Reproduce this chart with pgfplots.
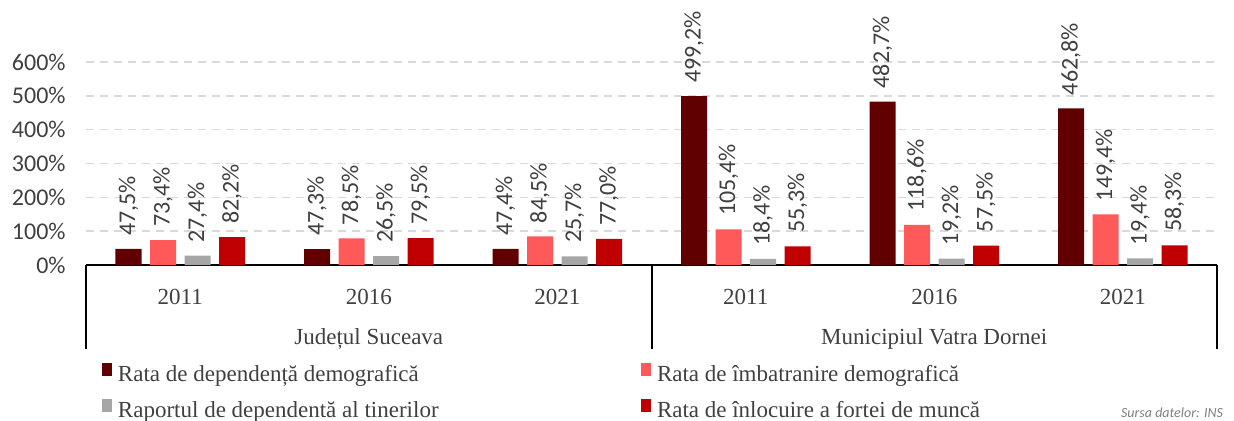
\documentclass[border=0pt]{standalone}
\usepackage{fontspec}
\setmainfont{Liberation Serif}
\newfontfamily\calibri{Carlito}
\usepackage{pgfplots}
\usepackage{pgfplotstable}
\pgfplotsset{compat=1.18}
\usetikzlibrary{calc}
\definecolor{cdark}{RGB}{96,0,0}
\definecolor{cpink}{RGB}{255,89,89}
\definecolor{cgray}{RGB}{166,166,166}
\definecolor{cred}{RGB}{192,0,0}
\definecolor{ctext}{RGB}{64,64,64}
\definecolor{cgrid}{RGB}{217,217,217}

\pgfplotstableread{
x dep imb tin inl
0 47.5 73.4 27.4 82.2
1 47.3 78.5 26.5 79.5
2 47.4 84.5 25.7 77.0
3 499.2 105.4 18.4 55.3
4 482.7 118.6 19.2 57.5
5 462.8 149.4 19.4 58.3
}\datatable

\begin{document}
\begin{tikzpicture}
\begin{axis}[
  scale only axis, width=565.5pt, height=101.5pt,
  xmin=-0.5, xmax=5.5, ymin=0, ymax=600,
  ybar=4.25pt, bar width=13pt,
  clip=false,
  axis x line*=bottom, axis y line*=left,
  y axis line style={draw=none},
  x axis line style={black, line width=1pt},
  xtick={0,...,5}, xticklabels={2011,2016,2021,2011,2016,2021},
  ytick={0,100,...,600},
  major tick length=0pt,
  ymajorgrids, grid style={cgrid, line width=0.75pt, dash pattern=on 4pt off 3pt},
  yticklabel={\pgfmathprintnumber[assume math mode=true,fixed,precision=0]{\tick}\%},
  yticklabel style={font=\calibri\fontsize{12}{14}\selectfont, text=ctext, anchor=east, inner sep=0pt, xshift=-10pt},
  xticklabel style={font=\fontsize{11.5}{13}\selectfont, text=ctext, anchor=base, yshift=-19.5pt},
  nodes near coords={\pgfmathprintnumber[assume math mode=true,fixed,fixed zerofill,precision=1,use comma]{\pgfplotspointmeta}\%},
  every node near coord/.append style={font=\calibri\fontsize{12}{14}\selectfont, text=ctext, rotate=90, anchor=west, inner sep=0pt, inner xsep=6.5pt},
  legend columns=2,
  legend style={draw=none, fill=none, at={(axis description cs:0,0)}, anchor=north west, xshift=8pt, yshift=-49pt, inner sep=0pt, outer sep=0pt, font=\fontsize{11.5}{13}\selectfont, text=ctext, row sep=6.2pt, nodes={inner sep=0pt, text height=8pt, text depth=2.5pt}, /tikz/every odd column/.append style={column sep=3pt}},
  legend image code/.code={\fill[#1] (0pt,0.3pt) rectangle (5pt,6.6pt);},
  legend cell align=left,
]
\addplot[fill=cdark, draw=none] table[x=x, y=dep] {\datatable};
\addlegendentry{\makebox[261.5pt][l]{Rata de dependență demografică}}
\addplot[fill=cpink, draw=none] table[x=x, y=imb] {\datatable};
\addlegendentry{\makebox[200pt][l]{Rata de îmbatranire demografică}}
\addplot[fill=cgray, draw=none] table[x=x, y=tin] {\datatable};
\addlegendentry{\makebox[261.5pt][l]{Raportul de dependentă al tinerilor}}
\addplot[fill=cred, draw=none] table[x=x, y=inl] {\datatable};
\addlegendentry{\makebox[200pt][l]{Rata de înlocuire a fortei de muncă}}

\draw[black, line width=1pt] (axis cs:-0.5,0) -- ([yshift=-42pt]axis cs:-0.5,0);
\draw[black, line width=1pt] (axis cs:2.5,0) -- ([yshift=-42pt]axis cs:2.5,0);
\draw[black, line width=1pt] (axis cs:5.5,0) -- ([yshift=-42pt]axis cs:5.5,0);
\node[anchor=base, font=\fontsize{11.5}{13}\selectfont, text=ctext, yshift=-39.5pt] at (axis cs:1,0) {Județul Suceava};
\node[anchor=base, font=\fontsize{11.5}{13}\selectfont, text=ctext, yshift=-39.5pt] at (axis cs:4,0) {Municipiul Vatra Dornei};
\coordinate (O) at (rel axis cs:0,0);
\end{axis}
\node[anchor=base east, font=\calibri\itshape\fontsize{7}{9}\selectfont, text=gray] at ($(O)+(572pt,-76.4pt)$) {Sursa datelor: INS};
\pgfresetboundingbox
\path[use as bounding box] ($(O)+(-43pt,-77.5pt)$) rectangle ($(O)+(574pt,132.5pt)$);
\end{tikzpicture}
\end{document}
